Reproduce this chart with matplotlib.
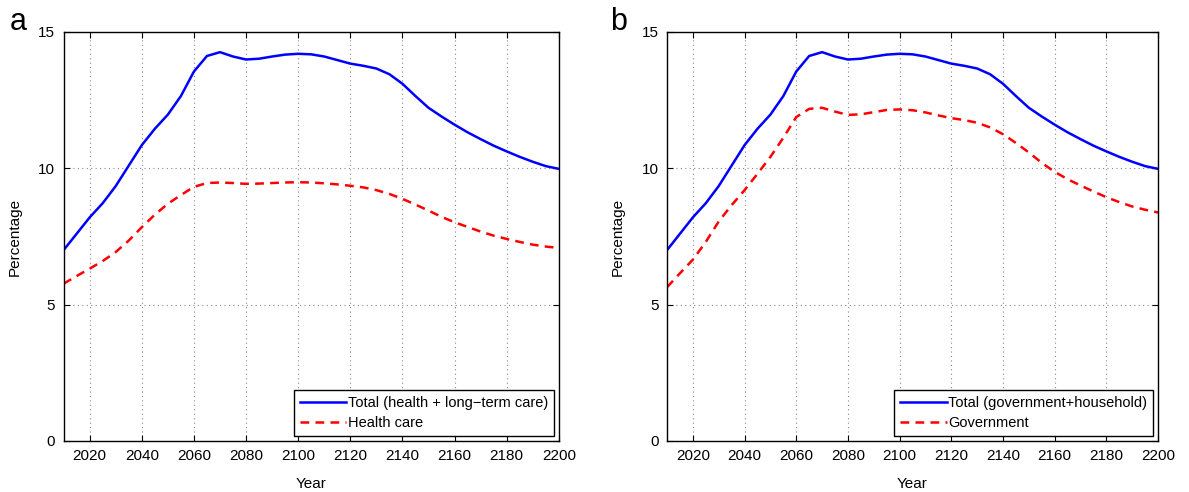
import numpy as np
import matplotlib
matplotlib.use('Agg')
import matplotlib.pyplot as plt

plt.rcParams['font.family'] = ['Liberation Sans', 'DejaVu Sans']

years = np.arange(2010, 2201, 5)

total = [7.0, 7.6, 8.2, 8.72, 9.35, 10.1, 10.85, 11.45, 11.97, 12.65,
         13.55, 14.12, 14.26, 14.1, 13.99, 14.02, 14.1, 14.17, 14.2, 14.18,
         14.1, 13.97, 13.84, 13.76, 13.66, 13.45, 13.1, 12.65, 12.22, 11.9,
         11.6, 11.32, 11.07, 10.83, 10.62, 10.42, 10.24, 10.08, 9.98]

health_care = [5.77, 6.05, 6.32, 6.6, 6.93, 7.35, 7.84, 8.3, 8.7, 9.02,
               9.32, 9.46, 9.48, 9.46, 9.43, 9.44, 9.46, 9.48, 9.49, 9.48,
               9.45, 9.41, 9.36, 9.3, 9.2, 9.06, 8.88, 8.67, 8.45, 8.22,
               8.02, 7.85, 7.68, 7.53, 7.41, 7.3, 7.2, 7.13, 7.08]

government = [5.64, 6.15, 6.65, 7.3, 8.05, 8.65, 9.2, 9.8, 10.42, 11.12,
              11.88, 12.18, 12.22, 12.08, 11.96, 11.98, 12.06, 12.14, 12.16, 12.13,
              12.05, 11.94, 11.84, 11.77, 11.67, 11.5, 11.25, 10.93, 10.58, 10.2,
              9.87, 9.6, 9.37, 9.15, 8.94, 8.76, 8.6, 8.48, 8.38]

xticks = list(range(2020, 2201, 20))
yticks = [0, 5, 10, 15]

panels = [
    ('a', total, health_care, 'Total (health + long\u2212term care)', 'Health care'),
    ('b', total, government, 'Total (government+household)', 'Government'),
]

fig = plt.figure(figsize=(11.89, 4.92), dpi=100)
lefts = [0.0535, 0.561]
widths = [0.4165, 0.413]
tag_x = [0.008, 0.513]

for i, (tag, top, bottom, lab1, lab2) in enumerate(panels):
    ax = fig.add_axes([lefts[i], 0.1037, widths[i], 0.8313])
    ax.plot(years, top, color='#0000ff', lw=1.8, label=lab1)
    ax.plot(years, bottom, color='#ff0000', lw=1.8, ls=(0, (3.5, 2.5)), label=lab2)
    ax.set_xlim(2010, 2200)
    ax.set_ylim(0, 15)
    ax.set_xticks(xticks)
    ax.set_yticks(yticks)
    ax.grid(True, ls=(0, (1, 3)), color='#888888', lw=0.8)
    ax.tick_params(direction='in', top=True, right=True, labelsize=11, length=4, pad=6)
    for s in ax.spines.values():
        s.set_linewidth(1.0)
    ax.set_xlabel('Year', fontsize=11, labelpad=10)
    ax.set_ylabel('Percentage', fontsize=11, labelpad=12)
    leg = ax.legend(loc='lower right', fontsize=10.5, fancybox=False, framealpha=1,
                    edgecolor='black', handlelength=3.2, handletextpad=0.1,
                    borderaxespad=0.35, borderpad=0.4, labelspacing=0.4)
    leg.get_frame().set_linewidth(1.0)
    fig.text(tag_x[i], 0.955, tag, fontsize=22, va='center', ha='left')

fig.savefig('out.png', dpi=100)
